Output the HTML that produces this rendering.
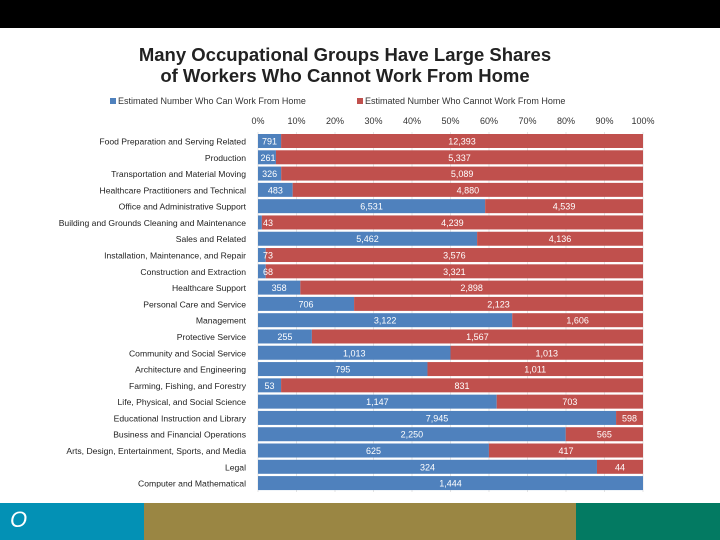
<!DOCTYPE html>
<html><head><meta charset="utf-8"><style>
body{margin:0;width:720px;height:540px;background:#fff;position:relative;overflow:hidden;font-family:"Liberation Sans",sans-serif}
.abs{position:absolute}
</style></head><body>
<div class="abs" style="left:0;top:0;width:720px;height:28px;background:#000"></div>
<div class="abs" style="left:0;width:690px;top:44px;text-align:center;font-weight:bold;font-size:18.5px;line-height:21px;color:#222">Many Occupational Groups Have Large Shares<br>of Workers Who Cannot Work From Home</div>
<div class="abs" style="left:110px;top:96px;font-size:9px;color:#333"><span style="display:inline-block;width:6px;height:6px;background:#4f81bd;margin-right:2px"></span>Estimated Number Who Can Work From Home</div>
<div class="abs" style="left:357px;top:96px;font-size:9px;color:#333"><span style="display:inline-block;width:6px;height:6px;background:#c0504d;margin-right:2px"></span>Estimated Number Who Cannot Work From Home</div>
<svg id="chart" class="abs" style="left:0;top:0" width="720" height="500"></svg>
<div class="abs" style="left:0;top:503px;width:144px;height:37px;background:#0391b5"><span style="position:absolute;left:10px;top:4px;color:#fff;font-size:22px;font-style:italic">O</span></div>
<div class="abs" style="left:144px;top:503px;width:432px;height:37px;background:#9a8643"></div>
<div class="abs" style="left:576px;top:503px;width:144px;height:37px;background:#037a62"></div>
<script>
const categories=["Food Preparation and Serving Related","Production","Transportation and Material Moving","Healthcare Practitioners and Technical","Office and Administrative Support","Building and Grounds Cleaning and Maintenance","Sales and Related","Installation, Maintenance, and Repair","Construction and Extraction","Healthcare Support","Personal Care and Service","Management","Protective Service","Community and Social Service","Architecture and Engineering","Farming, Fishing, and Forestry","Life, Physical, and Social Science","Educational Instruction and Library","Business and Financial Operations","Arts, Design, Entertainment, Sports, and Media","Legal","Computer and Mathematical"];
const canWork=[791,261,326,483,6531,43,5462,73,68,358,706,3122,255,1013,795,53,1147,7945,2250,625,324,1444];
const cannotWork=[12393,5337,5089,4880,4539,4239,4136,3576,3321,2898,2123,1606,1567,1013,1011,831,703,598,565,417,44,0];
const ticks=[0,10,20,30,40,50,60,70,80,90,100];
const NS="http://www.w3.org/2000/svg";
const svg=document.getElementById('chart');
const x0=258,x1=643,yTop=141,step=16.29,bh=14;
const xs=p=>x0+(x1-x0)*p/100;
const ys=i=>yTop+i*step;
function mk(t,a){const e=document.createElementNS(NS,t);for(const k in a)e.setAttribute(k,a[k]);svg.appendChild(e);return e;}
ticks.forEach(t=>{
 const l=mk('line',{x1:xs(t),x2:xs(t),y1:132,y2:492,stroke:'#e4e4e4','stroke-width':1});
 
 
 const tx=mk('text',{x:xs(t),y:124,'text-anchor':'middle','font-size':9,fill:'#333','font-family':'Liberation Sans, sans-serif'});
 tx.textContent=t+'%';
 
 
});
const fmt=v=>v.toLocaleString('en-US');
categories.forEach((c,i)=>{
 const tot=canWork[i]+cannotWork[i];
 const pb=canWork[i]/tot*100,y=ys(i);
 const lab=mk('text',{x:246,y:y+3.5,'text-anchor':'end','font-size':8.6,fill:'#222','font-family':'Liberation Sans, sans-serif'});
 lab.textContent=c;
 
 
 const b=mk('rect',{x:xs(0),y:y-bh/2,width:xs(pb)-xs(0),height:bh,fill:'#4f81bd'});
 
 
 const r=mk('rect',{x:xs(pb),y:y-bh/2,width:xs(100)-xs(pb),height:bh,fill:'#c0504d'});
 
 
 const cx=Math.max((xs(0)+xs(pb))/2,268);
 const t1=mk('text',{x:cx,y:y+3.5,'text-anchor':'middle','font-size':9,fill:'#fff','font-family':'Liberation Sans, sans-serif'});
 t1.textContent=fmt(canWork[i]);
 
 
 if(cannotWork[i]>0){
  const t2=mk('text',{x:(xs(pb)+xs(100))/2,y:y+3.5,'text-anchor':'middle','font-size':9,fill:'#fff','font-family':'Liberation Sans, sans-serif'});
  t2.textContent=fmt(cannotWork[i]);
  
  
 }
});
</script>
</body></html>
